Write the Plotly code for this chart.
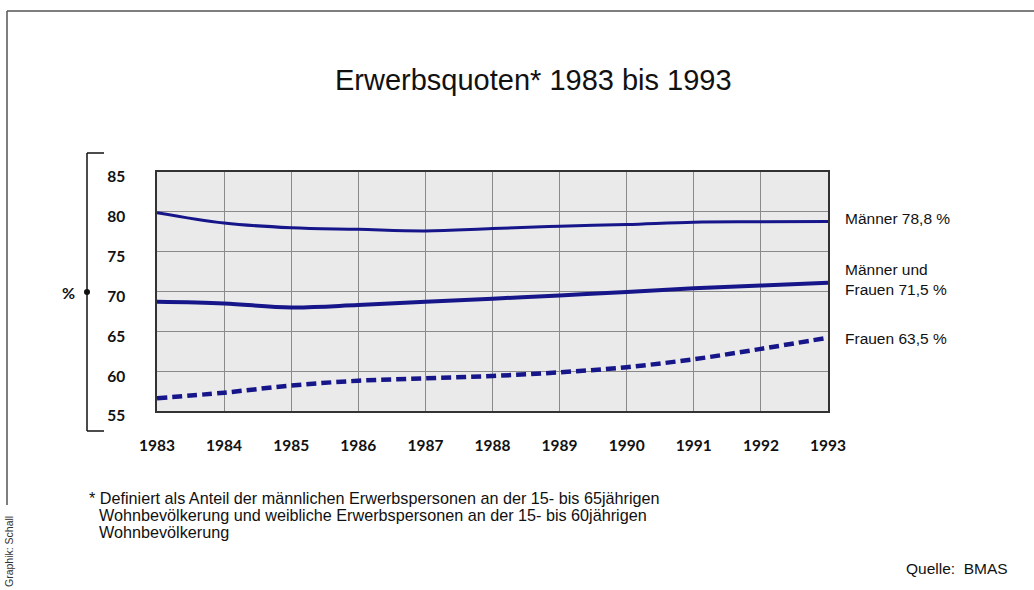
import plotly.graph_objects as go

years = list(range(1983, 1994))
maenner = [79.9, 78.6, 78.0, 77.8, 77.6, 77.9, 78.2, 78.4, 78.7, 78.75, 78.8]
gesamt = [68.7, 68.5, 68.0, 68.3, 68.7, 69.1, 69.5, 69.95, 70.4, 70.75, 71.1]
frauen = [56.6, 57.3, 58.2, 58.8, 59.1, 59.4, 59.85, 60.5, 61.5, 62.8, 64.2]
y_ticks = [55, 60, 65, 70, 75, 80, 85]
end_labels = ["Männer 78,8 %", "Männer und<br>Frauen 71,5 %", "Frauen 63,5 %"]
footnote_lines = [
    "* Definiert als Anteil der männlichen Erwerbspersonen an der 15- bis 65jährigen",
    "Wohnbevölkerung und weibliche Erwerbspersonen an der 15- bis 60jährigen",
    "Wohnbevölkerung",
]

W, H = 1034, 590
L, R, T, B = 157, 828, 172, 411
PW, PH = R - L, B - T


def px(x):
    return (x - L) / PW


def py(y):
    return (B - y) / PH


NAVY = "#16168a"
fig = go.Figure()
fig.add_trace(go.Scatter(x=years, y=maenner, mode="lines", line=dict(color=NAVY, width=3, shape="spline"),
                         hoverinfo="skip", showlegend=False))
fig.add_trace(go.Scatter(x=years, y=gesamt, mode="lines", line=dict(color=NAVY, width=4, shape="spline"),
                         hoverinfo="skip", showlegend=False))
fig.add_trace(go.Scatter(x=years, y=frauen, mode="lines", line=dict(color=NAVY, width=4.5, shape="spline", dash="10px,5px"),
                         hoverinfo="skip", showlegend=False))

tickfont = dict(family="Lato, sans-serif", size=15.5, color="#111", weight="bold")
fig.update_layout(
    width=W, height=H,
    margin=dict(l=L, r=W - R, t=T, b=H - B),
    paper_bgcolor="white",
    plot_bgcolor="#eaeaea",
    font=dict(family="Liberation Sans, Arial, sans-serif", color="#111"),
    xaxis=dict(range=[1983, 1993], tickvals=years, ticktext=[str(y) for y in years],
               showgrid=True, gridcolor="#8a8a8a", gridwidth=1,
               showline=True, linecolor="#333", linewidth=1.5, mirror=True,
               ticks="", ticklabelstandoff=20, zeroline=False, tickfont=tickfont),
    yaxis=dict(range=[55, 85], tickvals=y_ticks, ticktext=[str(v) for v in y_ticks],
               showgrid=True, gridcolor="#8a8a8a", gridwidth=1,
               showline=True, linecolor="#333", linewidth=1.5, mirror=True,
               ticks="", ticklabelstandoff=27, ticklabelshift=5, zeroline=False, tickfont=tickfont),
)

shapes = []
# frame
shapes.append(dict(type="line", xref="paper", yref="paper", x0=px(7), x1=px(1040), y0=py(11), y1=py(11),
                   line=dict(color="#555", width=1.5)))
shapes.append(dict(type="line", xref="paper", yref="paper", x0=px(7), x1=px(7), y0=py(11), y1=py(505),
                   line=dict(color="#555", width=1.5)))
# bracket
shapes.append(dict(type="line", xref="paper", yref="paper", x0=px(87), x1=px(87), y0=py(153), y1=py(431),
                   line=dict(color="#111", width=1.5)))
shapes.append(dict(type="line", xref="paper", yref="paper", x0=px(87), x1=px(104), y0=py(153), y1=py(153),
                   line=dict(color="#111", width=1.5)))
shapes.append(dict(type="line", xref="paper", yref="paper", x0=px(87), x1=px(104), y0=py(431), y1=py(431),
                   line=dict(color="#111", width=1.5)))
shapes.append(dict(type="circle", xref="paper", yref="paper", x0=px(84), x1=px(90), y0=py(289), y1=py(295),
                   fillcolor="#111", line=dict(color="#111", width=0)))
fig.update_layout(shapes=shapes)

ann = []
ann.append(dict(text="Erwerbsquoten* 1983 bis 1993", x=px(533), y=py(80), xref="paper", yref="paper",
                showarrow=False, font=dict(size=29, color="#111"), xanchor="center", yanchor="middle"))
ann.append(dict(text="%", x=px(68), y=py(292), xref="paper", yref="paper", showarrow=False,
                font=dict(family="Lato, sans-serif", size=16, color="#111", weight="bold"),
                xanchor="center", yanchor="middle"))
ends = [maenner[-1], gesamt[-1], frauen[-1]]
offs = [3, 3, -1]
for lab, v, o in zip(end_labels, ends, offs):
    ann.append(dict(text=lab, x=1, xshift=15, y=v, yshift=o, xref="paper", yref="y", showarrow=False,
                    font=dict(size=15.5, color="#111"), xanchor="left", yanchor="middle", align="left"))
for i, line in enumerate(footnote_lines):
    ann.append(dict(text=line, x=px(87 if i == 0 else 97), y=py(498 + 17 * i), xref="paper", yref="paper",
                    showarrow=False, font=dict(size=16.2, color="#111"), xanchor="left", yanchor="middle"))
ann.append(dict(text="Quelle:&nbsp;&nbsp;BMAS", x=px(1010), y=py(568), xref="paper", yref="paper", showarrow=False,
                font=dict(size=15.5, color="#111"), xanchor="right", yanchor="middle"))
ann.append(dict(text="Graphik: Schall", x=px(9), y=py(552), xref="paper", yref="paper", showarrow=False,
                textangle=-90, font=dict(size=10.5, color="#333"), xanchor="center", yanchor="middle"))
fig.update_layout(annotations=ann)

fig.write_html("out.html", config={"displayModeBar": False},
               post_script="document.body.style.margin='0';")
